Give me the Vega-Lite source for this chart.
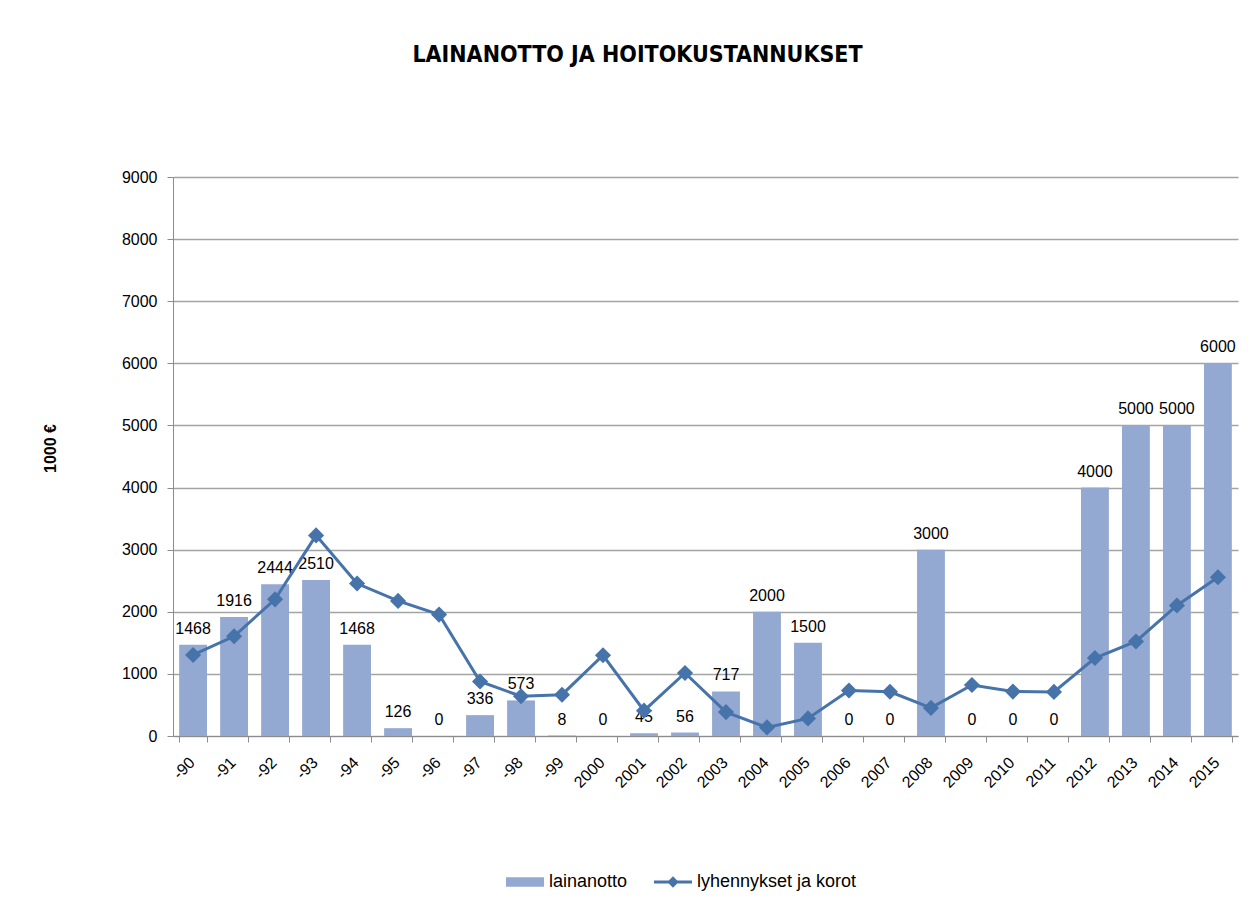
{
  "$schema": "https://vega.github.io/schema/vega-lite/v6.json",
  "width": 1065,
  "height": 559,
  "autosize": "none",
  "padding": {"left": 173, "top": 177, "right": 20, "bottom": 187},
  "background": "white",
  "title": {
    "text": "LAINANOTTO JA HOITOKUSTANNUKSET",
    "font": "Liberation Sans Narrow, DejaVu Sans Condensed, Liberation Sans, sans-serif",
    "fontSize": 23,
    "fontWeight": "bold",
    "color": "#000000",
    "offset": 102,
    "dx": -68,
    "anchor": "middle"
  },
  "config": {
    "view": {"stroke": null},
    "font": "Liberation Sans",
    "axis": {"labelColor": "#000000", "titleColor": "#000000", "labelFont": "Liberation Sans", "titleFont": "Liberation Sans"},
    "legend": {"labelFont": "Liberation Sans", "labelColor": "#000000"}
  },
  "data": {
    "values": [
      {"year": "-90", "lainanotto": 1468, "lyhennykset": 1305},
      {"year": "-91", "lainanotto": 1916, "lyhennykset": 1605},
      {"year": "-92", "lainanotto": 2444, "lyhennykset": 2200},
      {"year": "-93", "lainanotto": 2510, "lyhennykset": 3230},
      {"year": "-94", "lainanotto": 1468, "lyhennykset": 2455},
      {"year": "-95", "lainanotto": 126, "lyhennykset": 2175},
      {"year": "-96", "lainanotto": 0, "lyhennykset": 1955},
      {"year": "-97", "lainanotto": 336, "lyhennykset": 878},
      {"year": "-98", "lainanotto": 573, "lyhennykset": 640},
      {"year": "-99", "lainanotto": 8, "lyhennykset": 665},
      {"year": "2000", "lainanotto": 0, "lyhennykset": 1300},
      {"year": "2001", "lainanotto": 45, "lyhennykset": 408},
      {"year": "2002", "lainanotto": 56, "lyhennykset": 1015},
      {"year": "2003", "lainanotto": 717, "lyhennykset": 385},
      {"year": "2004", "lainanotto": 2000, "lyhennykset": 138},
      {"year": "2005", "lainanotto": 1500, "lyhennykset": 283},
      {"year": "2006", "lainanotto": 0, "lyhennykset": 732},
      {"year": "2007", "lainanotto": 0, "lyhennykset": 712},
      {"year": "2008", "lainanotto": 3000, "lyhennykset": 452},
      {"year": "2009", "lainanotto": 0, "lyhennykset": 822},
      {"year": "2010", "lainanotto": 0, "lyhennykset": 715},
      {"year": "2011", "lainanotto": 0, "lyhennykset": 710},
      {"year": "2012", "lainanotto": 4000, "lyhennykset": 1255},
      {"year": "2013", "lainanotto": 5000, "lyhennykset": 1522},
      {"year": "2014", "lainanotto": 5000, "lyhennykset": 2102},
      {"year": "2015", "lainanotto": 6000, "lyhennykset": 2555}
    ]
  },
  "encoding": {
    "x": {
      "field": "year",
      "type": "ordinal",
      "sort": null,
      "scale": {"paddingInner": 0.32, "paddingOuter": 0.15},
      "axis": {
        "title": null,
        "labelAngle": -45,
        "labelFontSize": 16,
        "tickBand": "extent",
        "tickSize": 6,
        "tickColor": "#8c8c8c",
        "domainColor": "#8c8c8c",
        "labelPadding": 12,
        "labelOffset": -7,
        "grid": false
      }
    }
  },
  "layer": [
    {
      "mark": {"type": "bar", "opacity": 1},
      "encoding": {
        "y": {
          "field": "lainanotto",
          "type": "quantitative",
          "scale": {"domain": [0, 9000], "nice": false},
          "axis": {
            "values": [0, 500, 1000, 1500, 2000, 2500, 3000, 3500, 4000, 4500, 5000, 5500, 6000, 6500, 7000, 7500, 8000, 8500, 9000],
            "labelExpr": "datum.value % 1000 === 0 ? datum.label : ''",
            "format": "d",
            "grid": true,
            "gridColor": {"condition": {"test": "datum.value % 1000 === 0", "value": "#a3a3a3"}, "value": "#d6d6d6"},
            "gridWidth": 1.3,
            "tickOpacity": {"condition": {"test": "datum.value % 1000 === 0", "value": 1}, "value": 0},
            "tickColor": "#8c8c8c",
            "tickSize": 6,
            "domainColor": "#8c8c8c",
            "labelFontSize": 16,
            "labelPadding": 10,
            "title": "1000 €",
            "titleFontSize": 16,
            "titleFontWeight": "bold",
            "titlePadding": 63,
            "titleY": 271
          }
        },
        "color": {
          "datum": "lainanotto",
          "scale": {"domain": ["lainanotto", "lyhennykset ja korot"], "range": ["#94a9d2", "#4673aa"]},
          "legend": {
            "orient": "none",
            "legendX": 333,
            "legendY": 686,
            "direction": "horizontal",
            "title": null,
            "labelFontSize": 18,
            "symbolSize": 1444,
            "columnPadding": 26,
            "labelOffset": 5,
            "symbolType": {"expr": "datum.value === 'lainanotto' ? 'M-1,-0.25H1V0.25H-1Z' : 'M-1,-0.08H1V0.08H-1Z M0,-0.3L0.3,0L0,0.3L-0.3,0Z'"},
            "symbolStrokeWidth": 0,
            "symbolOpacity": 1
          }
        }
      }
    },
    {
      "mark": {"type": "text", "baseline": "alphabetic", "dy": -11, "fontSize": 16, "color": "#000000"},
      "encoding": {
        "y": {"field": "lainanotto", "type": "quantitative"},
        "text": {"field": "lainanotto", "type": "quantitative", "format": "d"}
      }
    },
    {
      "mark": {"type": "line", "strokeWidth": 3, "point": {"shape": "diamond", "size": 260, "filled": true, "opacity": 1}},
      "encoding": {
        "y": {"field": "lyhennykset", "type": "quantitative"},
        "color": {"datum": "lyhennykset ja korot"}
      }
    }
  ]
}
